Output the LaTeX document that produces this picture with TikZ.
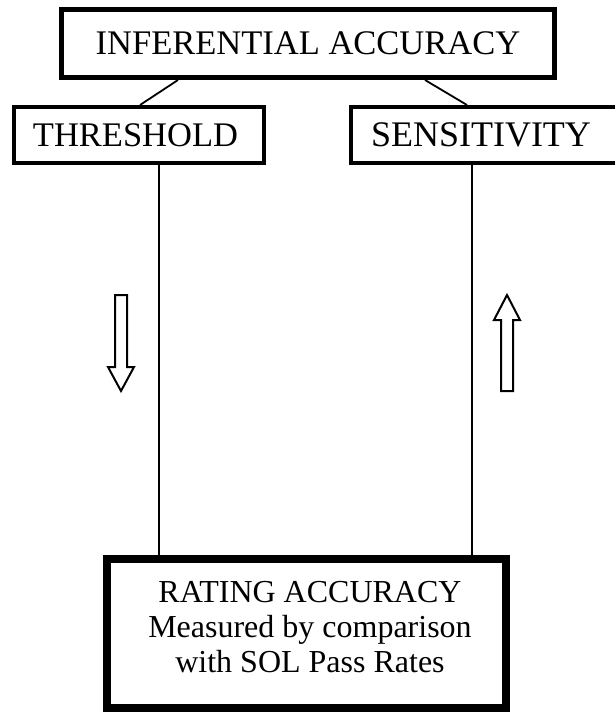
\documentclass[tikz,border=0pt]{standalone}
\usepackage{fontspec}
\setmainfont{Liberation Serif}
\usepackage{tikz}
\tikzset{
  lvl/.style={draw,line width=#1,inner sep=0pt,align=center,font=\fontsize{34.5}{35}\selectfont},
  lnk/.style={line width=1.8pt},
  dir/.style={line width=2pt,line join=miter}
}
\newcommand{\hollowarrow}[4]{\draw[dir] (#1-6,#2) -- (#1-6,#3) -- (#1-13,#3) -- (#1,#4) -- (#1+13,#3) -- (#1+6,#3) -- (#1+6,#2) -- cycle;}

\begin{document}
\begin{tikzpicture}[x=1pt,y=-1pt]
\useasboundingbox (0,0) rectangle (614,713);
\node[lvl=5pt,minimum width=493pt,minimum height=68pt] (infer) at (308,43.5) {INFERENTIAL ACCURACY};
\node[lvl=4pt,minimum width=250pt,minimum height=56pt] (thresh) at (139,135) {\hspace*{-7pt}THRESHOLD};
\node[lvl=4pt,minimum width=269pt,minimum height=56pt,font=\fontsize{36}{35}\selectfont] (sens) at (485.5,135) {\hspace*{-9pt}SENSITIVITY};
\node[lvl=8pt,minimum width=399pt,minimum height=149pt,font=\fontsize{32}{35}\selectfont] (rating) at (306.5,633.5) {\hspace*{7pt}RATING ACCURACY\\\hspace*{7pt}Measured by comparison\\\hspace*{7pt}with SOL Pass Rates\\[-22pt]};
\draw[lnk] ([xshift=-130pt]infer.south) -- ([xshift=1pt]thresh.north);
\draw[lnk] ([xshift=117pt]infer.south) -- ([xshift=-18.5pt]sens.north);
\draw[lnk] ([xshift=20pt]thresh.south) -- ([xshift=20pt]thresh.south |- rating.north);
\draw[lnk] ([xshift=-13.5pt]sens.south) -- ([xshift=-13.5pt]sens.south |- rating.north);
\hollowarrow{121}{295}{367}{391}
\hollowarrow{507}{391}{320}{295}
\end{tikzpicture}
\end{document}
